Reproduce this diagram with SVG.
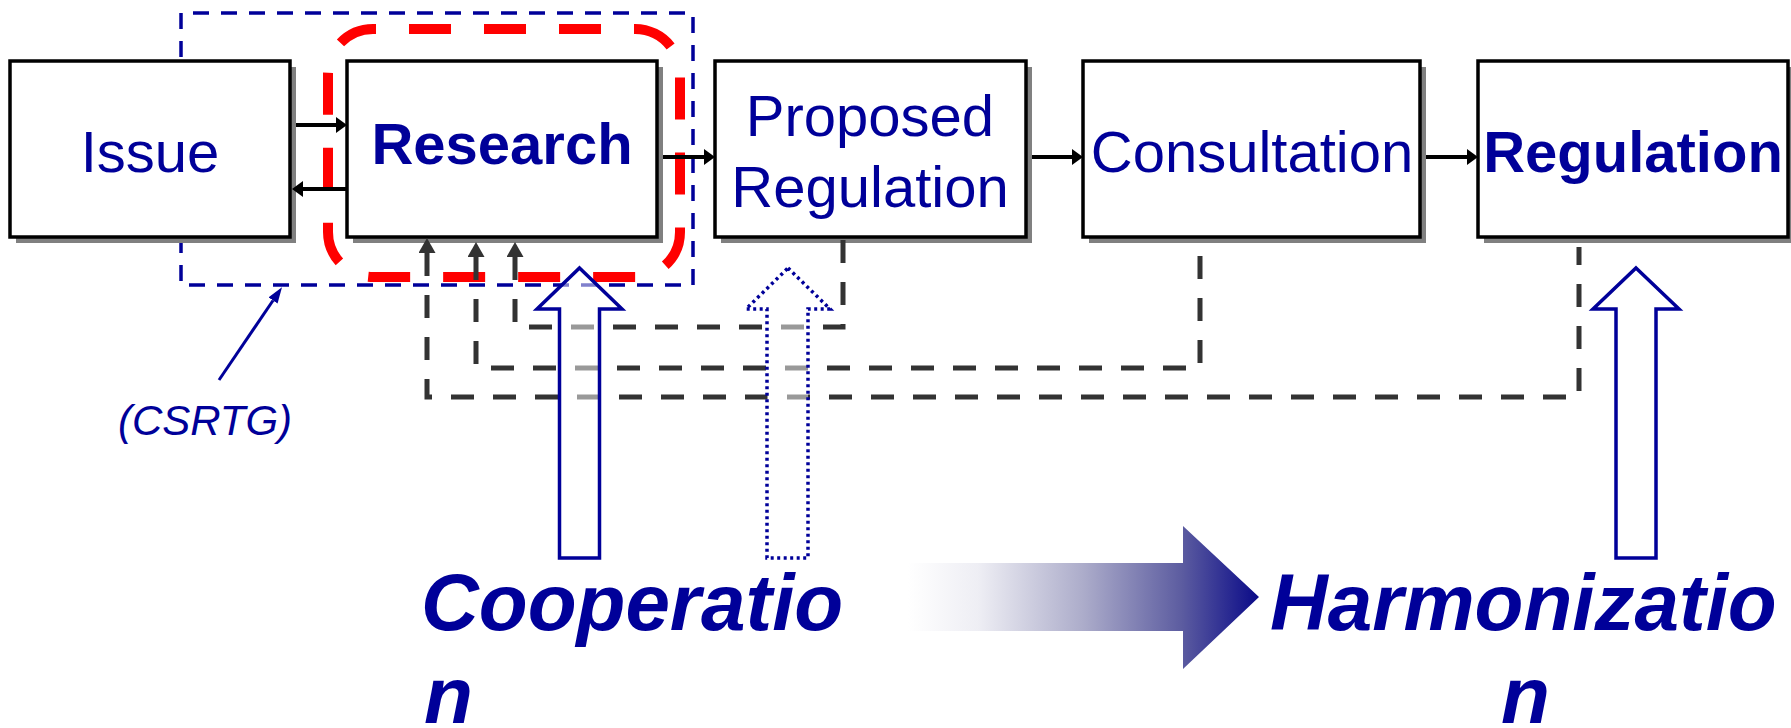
<svg xmlns="http://www.w3.org/2000/svg" width="1791" height="728" viewBox="0 0 1791 728">
<style>
.box{fill:#ffffff;stroke:#000000;stroke-width:3.5}
.shadow{fill:#808080}
.t{font-family:"Liberation Sans",Arial,sans-serif;fill:#000099;text-anchor:middle}
.reg{font-size:58px}
.bold{font-size:58px;font-weight:bold}
.big{font-family:"Liberation Sans",Arial,sans-serif;fill:#000099;font-size:80px;font-weight:bold;font-style:italic}
.flow{fill:none;stroke:#000000;stroke-width:4}
.fb{fill:none;stroke:#333333;stroke-width:5;stroke-dasharray:23 19}
.block{fill:#ffffff;fill-opacity:0.5;stroke:#000099;stroke-width:3.5;stroke-linejoin:miter}
</style>
<defs>
<marker id="ah" markerUnits="userSpaceOnUse" markerWidth="11" markerHeight="16" viewBox="0 0 11 16" refX="0" refY="8" orient="auto">
<path d="M0,0 L11,8 L0,16 z" fill="#000000"/>
</marker>
<marker id="ahg" markerUnits="userSpaceOnUse" markerWidth="15" markerHeight="17" viewBox="0 0 15 17" refX="0" refY="8.5" orient="auto">
<path d="M0,0 L15,8.5 L0,17 z" fill="#333333"/>
</marker>
<marker id="ahb" markerUnits="userSpaceOnUse" markerWidth="16" markerHeight="11" viewBox="0 0 16 11" refX="0" refY="5.5" orient="auto">
<path d="M0,0 L16,5.5 L0,11 z" fill="#000099"/>
</marker>
<linearGradient id="grad" gradientUnits="userSpaceOnUse" x1="908" y1="0" x2="1259" y2="0">
<stop offset="0" stop-color="#ffffff"/>
<stop offset="0.2" stop-color="#eeeef4"/>
<stop offset="0.5" stop-color="#acacca"/>
<stop offset="0.78" stop-color="#5c5ca0"/>
<stop offset="1" stop-color="#0a0a88"/>
</linearGradient>
</defs>

<g id="csrtg-group">
<path d="M181,13 L181,285 L693,285 L693,13 Z" fill="none" stroke="#000099" stroke-width="3.5" stroke-dasharray="16 12"/>
</g>
<g id="research-group">
<rect x="328" y="29" width="352" height="248" rx="45" ry="45" fill="none" stroke="#ff0000" stroke-width="10" stroke-dasharray="42 33" stroke-dashoffset="39"/>
</g>

<g id="issue">
<rect class="shadow" x="16" y="67" width="280" height="176"/>
<rect class="box" x="10" y="61" width="280" height="176"/>
<text class="t reg" x="150" y="172">Issue</text>
</g>
<g id="research">
<rect class="shadow" x="353" y="67" width="310" height="176"/>
<rect class="box" x="347" y="61" width="310" height="176"/>
<text class="t bold" x="502" y="164">Research</text>
</g>
<g id="proposed">
<rect class="shadow" x="721" y="67" width="311" height="176"/>
<rect class="box" x="715" y="61" width="311" height="176"/>
<text class="t reg" x="870" y="136">Proposed</text>
<text class="t reg" x="870" y="207">Regulation</text>
</g>
<g id="consultation">
<rect class="shadow" x="1089" y="67" width="337" height="176"/>
<rect class="box" x="1083" y="61" width="337" height="176"/>
<text class="t reg" x="1252" y="172">Consultation</text>
</g>
<g id="regulation">
<rect class="shadow" x="1484" y="67" width="310" height="176"/>
<rect class="box" x="1478" y="61" width="310" height="176"/>
<text class="t bold" x="1633" y="172">Regulation</text>
</g>

<g id="connectors">
<path class="flow" d="M296,125 H336" marker-end="url(#ah)"/>
<path class="flow" d="M347,189 H303" marker-end="url(#ah)"/>
<path class="flow" d="M663,157 H704" marker-end="url(#ah)"/>
<path class="flow" d="M1032,157 H1072" marker-end="url(#ah)"/>
<path class="flow" d="M1426,157 H1467" marker-end="url(#ah)"/>
<path class="fb" d="M1579,247 V397 H427 V253" stroke-dashoffset="5" marker-end="url(#ahg)"/>
<path class="fb" d="M1200,240 V368 H476 V257" stroke-dashoffset="26" marker-end="url(#ahg)"/>
<path class="fb" d="M843,240 V327 H515 V257" stroke-dashoffset="0" marker-end="url(#ahg)"/>
<path d="M219,380 L273,300.5" fill="none" stroke="#000099" stroke-width="3" marker-end="url(#ahb)"/>
</g>

<g id="cooperation-arrow">
<path class="block" d="M579.5,268 L622,309 L599.5,309 L599.5,558 L559.5,558 L559.5,309 L537,309 Z"/>
</g>
<g id="dotted-arrow">
<path class="block" d="M788,268 L830,309 L808,309 L808,558 L767,558 L767,309 L746,309 Z" stroke-width="3" stroke-dasharray="3 3.5"/>
</g>
<g id="regulation-arrow">
<path class="block" d="M1636,268 L1679,309 L1656,309 L1656,558 L1616,558 L1616,309 L1593,309 Z"/>
</g>

<g id="progress-arrow">
<path d="M908,563 L1183,563 L1183,526 L1259,597 L1183,669 L1183,631 L908,631 Z" fill="url(#grad)"/>
</g>

<g id="labels">
<text class="t" x="205" y="435" font-size="42" font-style="italic">(CSRTG)</text>
<text class="big" x="421" y="630">Cooperatio</text>
<text class="big" x="424" y="723">n</text>
<text class="big" x="1270" y="630">Harmonizatio</text>
<text class="big" x="1501" y="723">n</text>
</g>
</svg>
